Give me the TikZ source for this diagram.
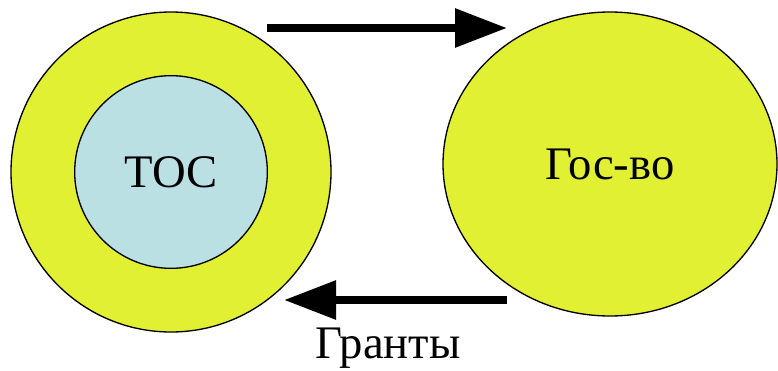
\documentclass[tikz,border=0pt]{standalone}
\usepackage{fontspec}
\setmainfont{Liberation Serif}
\usetikzlibrary{shapes.geometric,arrows.meta}
\definecolor{tosyellow}{RGB}{225,240,50}
\definecolor{tosblue}{RGB}{186,224,228}
\tikzset{
  blob/.style={draw,line width=1pt,fill=tosyellow,inner sep=0pt},
  bigarrow/.style={line width=6pt,-{Triangle[length=39pt,width=28pt]}},
}
\begin{document}
\begin{tikzpicture}[x=0.75pt,y=-0.75pt,every node/.style={font=\fontsize{35}{42}\selectfont}]
    \useasboundingbox (0,0) rectangle (778,371);

    \node (outer) [blob,circle,minimum size=240pt] at (171,172) {};
    \node (toc) [blob,circle,fill=tosblue,minimum size=144.5pt] at (171,172) {ТОС};

    \node (gos) [blob,ellipse,minimum width=250.5pt,minimum height=228pt] at (610,164) {Гос-во};

%    flows between the two
    \coordinate (topstart) at (267,28);
    \coordinate (topend) at (507,28);
    \draw [bigarrow] (topstart) -- (topend);

    \coordinate (botstart) at (507,300);
    \coordinate (botend) at (284,300);
    \draw [bigarrow] (botstart) -- (botend);
    \node (grants) at (388,348) {Гранты};

\end{tikzpicture}
\end{document}
